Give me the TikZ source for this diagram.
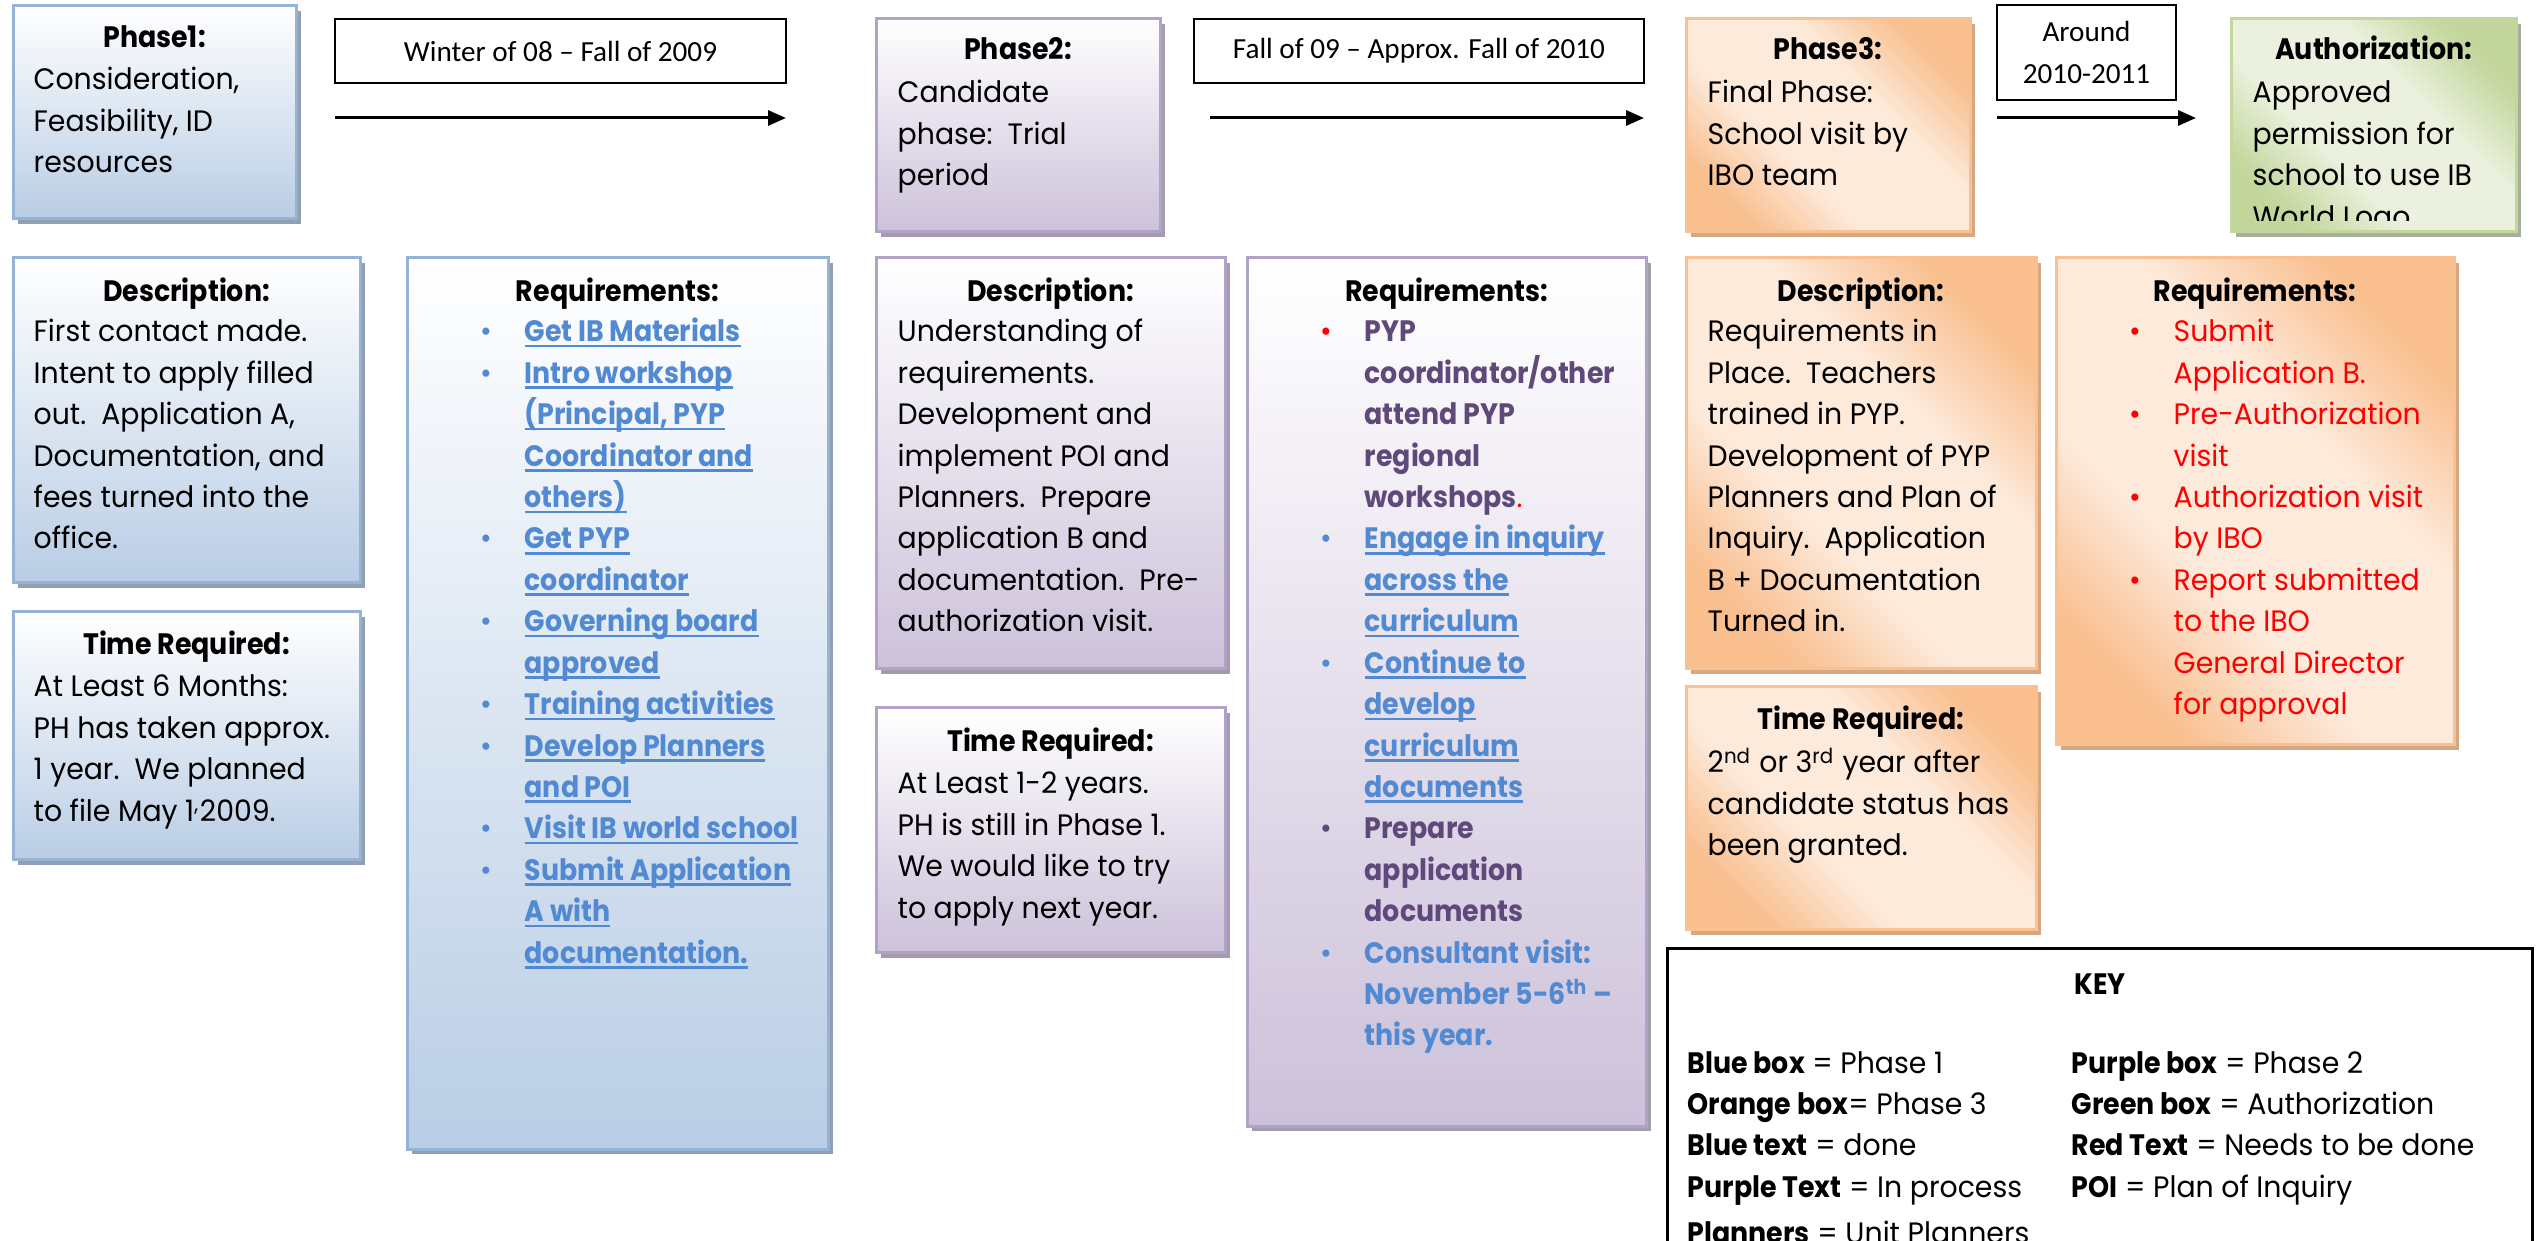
\documentclass[tikz,border=0pt]{standalone}
\usepackage{fontspec}
\setmainfont{Poppins}[UprightFeatures={FakeStretch=0.96},BoldFeatures={FakeStretch=0.91}]
\newfontfamily\lblfont{Carlito}
\usetikzlibrary{shadows,arrows.meta,fit}

\definecolor{bfill}{HTML}{B9CDE5}
\definecolor{bline}{HTML}{95B3D7}
\definecolor{bshad}{HTML}{929FB0}
\definecolor{pfill}{HTML}{CCC1DA}
\definecolor{pline}{HTML}{B3A2C7}
\definecolor{pshad}{HTML}{A49CAB}
\definecolor{ofill}{HTML}{F9BF8F}
\definecolor{olite}{HTML}{FDEADB}
\definecolor{oline}{HTML}{FAC090}
\definecolor{oshad}{HTML}{D4A882}
\definecolor{gfill}{HTML}{C3D69B}
\definecolor{glite}{HTML}{EBF1DE}
\definecolor{gline}{HTML}{C3D69B}
\definecolor{gshad}{HTML}{A9AF9D}
\definecolor{lblue}{HTML}{5189D3}
\definecolor{ppl}{HTML}{5F497A}
\definecolor{rd}{HTML}{FF0000}

\pgfdeclarehorizontalshading{odiag}{100bp}{color(0bp)=(ofill); color(25bp)=(ofill); color(40bp)=(olite); color(60bp)=(olite); color(75bp)=(ofill); color(100bp)=(ofill)}
\pgfdeclarehorizontalshading{gdiag}{100bp}{color(0bp)=(gfill); color(25bp)=(gfill); color(40bp)=(glite); color(60bp)=(glite); color(75bp)=(gfill); color(100bp)=(gfill)}

\newcommand\bdfont{\fontsize{8.4}{11.78}\selectfont}
\newcommand\tb[1]{\parbox[t]{80mm}{\raggedright #1}}
\newcommand\ulk[1]{\leavevmode\setbox0\hbox{#1}\rlap{\rule[-0.55mm]{\wd0}{0.25mm}}\box0}
\newlength\bind \setlength\bind{9.6mm}
\newcommand\bl[1]{\hspace*{\bind}\llap{\textcolor{#1}{\textbullet}\hspace{3.3mm}}}
\newcommand\ci{\hspace*{\bind}}
\newcommand\lk[1]{{\color{lblue}\bfseries\ulk{#1}}}
\newcommand\pp[1]{{\color{ppl}\bfseries #1}}
\newcommand\bb[1]{{\color{lblue}\bfseries #1}}
\newcommand\rr[1]{{\color{rd}#1}}

\begin{document}
\begin{tikzpicture}[x=0.1mm,y=-0.1mm,
  bx/.style={draw, line width=0.3mm, inner sep=0pt},
  shb/.style={drop shadow={shadow xshift=0.45mm, shadow yshift=-0.5mm, fill=#1, opacity=1}},
  blbox/.style={bx, draw=bline, top color=white, bottom color=bfill, shb=bshad},
  pubox/.style={bx, draw=pline, top color=white, bottom color=pfill, shb=pshad},
  orbox/.style={bx, draw=oline, shade, shading=odiag, shading angle=45, shb=oshad},
  grbox/.style={bx, draw=gline, shade, shading=gdiag, shading angle=45, shb=gshad},
  hd/.style={font=\bdfont\bfseries, anchor=base, inner sep=0pt},
  bd/.style={font=\bdfont, anchor=base west, inner sep=0pt},
  lbl/.style={draw=black, line width=0.25mm, fill=white, inner sep=0pt},
  lt/.style={font=\lblfont\fontsize{8.3}{12}\selectfont, align=center, inner sep=0pt},
  arr/.style={line width=0.3mm, -{Triangle[length=1.8mm,width=1.5mm]}}
]
\useasboundingbox[fill=white] (0,0) rectangle (2540,1241);

% ---------- top row ----------
\node[blbox, fit={(13,6) (296,219)}] (p1) {};
\node[hd] (p1h) at (154.5,48) {Phase1:};
\node[bd] (p1b) at (33,90) {\tb{Consideration,\\Feasibility, ID\\resources}};

\node[lbl, fit={(335,19) (786,83)}] (w) {};
\node[lt] (wt) at (w.center) {Winter of 08 – Fall of 2009};
\coordinate (a1s) at (335,118);
\coordinate (a1e) at (786,118);
\draw[arr] (a1s) -- (a1e);

\node[pubox, fit={(876,19) (1160,232)}] (p2) {};
\node[hd] (p2h) at (1018,60) {Phase2:};
\node[bd] (p2b) at (897,103) {\tb{Candidate\\phase:\ \ Trial\\period}};

\node[lbl, fit={(1194,19) (1644,83)}] (f) {};
\node[lt] (ft) at (f.center) {Fall of 09 – Approx. Fall of 2010};
\coordinate (a2s) at (1210,118);
\coordinate (a2e) at (1644,118);
\draw[arr] (a2s) -- (a2e);

\node[orbox, fit={(1686,19) (1970,232)}] (p3) {};
\node[hd] (p3h) at (1828,60) {Phase3:};
\node[bd] (p3b) at (1707,103) {\tb{Final Phase:\\School visit by\\IBO team}};

\node[lbl, fit={(1997,5) (2176,100)}] (ar) {};
\node[lt] (art) at (ar.center) {Around\\2010-2011};
\coordinate (a3s) at (1997,118);
\coordinate (a3e) at (2196,118);
\draw[arr] (a3s) -- (a3e);

\node[grbox, fit={(2231,19) (2516,232)}] (au) {};
\node[hd] (auh) at (2373.5,60) {Authorization:};
\begin{scope}
\clip (2231,19) rectangle (2516,221);
\node[bd] (aub) at (2252,103) {\tb{Approved\\permission for\\school to use IB\\World Logo}};
\end{scope}

% ---------- phase 1 column ----------
\node[blbox, fit={(13,258) (360,583)}] (d1) {};
\node[hd] (d1h) at (186.5,302) {Description:};
\node[bd] (d1b) at (33,342) {\tb{First contact made.\\Intent to apply filled\\out.\ \ Application A,\\Documentation, and\\fees turned into the\\office.}};

\node[blbox, fit={(13,612) (360,860)}] (t1) {};
\node[hd] (t1h) at (186.5,655) {Time Required:};
\node[bd] (t1b) at (33,697) {\tb{At Least 6 Months:\\PH has taken approx.\\1 year.\ \ We planned\\to file May 1\textsuperscript{,}2009.}};

\node[blbox, fit={(407,258) (828,1149)}] (r1) {};
\node[hd] (r1h) at (617.5,302) {Requirements:};
\node[bd] (r1b) at (428,342) {\tb{%
\bl{lblue}\lk{Get IB Materials}\\
\bl{lblue}\lk{Intro workshop}\\
\ci\lk{(Principal, PYP}\\
\ci\lk{Coordinator and}\\
\ci\lk{others)}\\
\bl{lblue}\lk{Get PYP}\\
\ci\lk{coordinator}\\
\bl{lblue}\lk{Governing board}\\
\ci\lk{approved}\\
\bl{lblue}\lk{Training activities}\\
\bl{lblue}\lk{Develop Planners}\\
\ci\lk{and POI}\\
\bl{lblue}\lk{Visit IB world school}\\
\bl{lblue}\lk{Submit Application}\\
\ci\lk{A with}\\
\ci\lk{documentation.}}};

% ---------- phase 2 column ----------
\node[pubox, fit={(876,258) (1225,669)}] (d2) {};
\node[hd] (d2h) at (1050.5,302) {Description:};
\node[bd] (d2b) at (897,342) {\tb{Understanding of\\requirements.\\Development and\\implement POI and\\Planners.\ \ Prepare\\application B and\\documentation.\ \ Pre-\\authorization visit.}};

\node[pubox, fit={(876,708) (1225,953)}] (t2) {};
\node[hd] (t2h) at (1050.5,752) {Time Required:};
\node[bd] (t2b) at (897,794) {\tb{At Least 1-2 years.\\PH is still in Phase 1.\\We would like to try\\to apply next year.}};

\node[pubox, fit={(1247,258) (1646,1126)}] (r2) {};
\node[hd] (r2h) at (1446.5,302) {Requirements:};
\node[bd] (r2b) at (1268,342) {\tb{%
\bl{rd}\pp{PYP}\\
\ci\pp{coordinator/other}\\
\ci\pp{attend PYP}\\
\ci\pp{regional}\\
\ci\pp{workshops}\textcolor{rd}{.}\\
\bl{lblue}\lk{Engage in inquiry}\\
\ci\lk{across the}\\
\ci\lk{curriculum}\\
\bl{lblue}\lk{Continue to}\\
\ci\lk{develop}\\
\ci\lk{curriculum}\\
\ci\lk{documents}\\
\bl{ppl}\pp{Prepare}\\
\ci\pp{application}\\
\ci\pp{documents}\\
\bl{lblue}\bb{Consultant visit:}\\
\ci\bb{November 5-6\textsuperscript{th} –}\\
\ci\bb{this year.}}};

% ---------- phase 3 column ----------
\node[orbox, fit={(1686,258) (2036,669)}] (d3) {};
\node[hd] (d3h) at (1861,302) {Description:};
\node[bd] (d3b) at (1707,342) {\tb{Requirements in\\Place.\ \ Teachers\\trained in PYP.\\Development of PYP\\Planners and Plan of\\Inquiry.\ \ Application\\B + Documentation\\Turned in.}};

\node[orbox, fit={(1686,687) (2036,930)}] (t3) {};
\node[hd] (t3h) at (1861,730) {Time Required:};
\node[bd] (t3b) at (1707,773) {\tb{2\textsuperscript{nd} or 3\textsuperscript{rd} year after\\candidate status has\\been granted.}};

\node[orbox, fit={(2056,258) (2454,745)}] (r3) {};
\node[hd] (r3h) at (2255,302) {Requirements:};
\node[bd] (r3b) at (2077,342) {\tb{%
\bl{rd}\rr{Submit}\\
\ci\rr{Application B.}\\
\bl{rd}\rr{Pre-Authorization}\\
\ci\rr{visit}\\
\bl{rd}\rr{Authorization visit}\\
\ci\rr{by IBO}\\
\bl{rd}\rr{Report submitted}\\
\ci\rr{to the IBO}\\
\ci\rr{General Director}\\
\ci\rr{for approval}}};

% ---------- key ----------
\node[draw=black, line width=0.3mm, inner sep=0pt, fit={(1667,949) (2532,1300)}] (key) {};
\node[hd] (keyh) at (2100,995) {KEY};
\node[bd] (keyl) at (1687,1073) {\tb{\textbf{Blue box} = Phase 1\\\textbf{Orange box}= Phase 3\\\textbf{Blue text} = done\\\textbf{Purple Text} = In process}};
\node[bd] (keyp) at (1687,1243) {\textbf{Planners} = Unit Planners};
\node[bd] (keyr) at (2071,1073) {\tb{\textbf{Purple box} = Phase 2\\\textbf{Green box} = Authorization\\\textbf{Red Text} = Needs to be done\\\textbf{POI} = Plan of Inquiry}};
\end{tikzpicture}
\end{document}
